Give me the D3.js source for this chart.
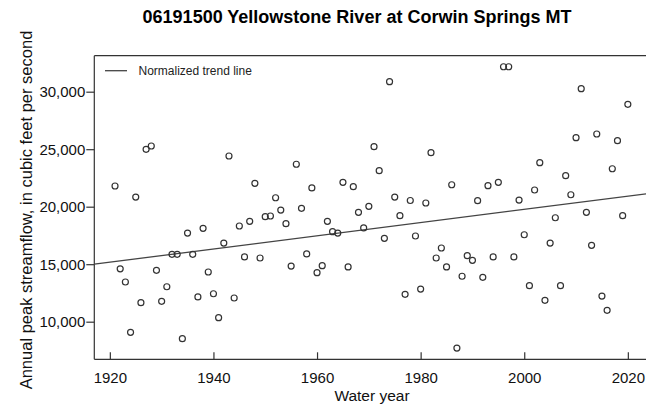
<!DOCTYPE html>
<html>
<head>
<meta charset="utf-8">
<script src="https://cdn.jsdelivr.net/npm/d3@7"></script>
<style>
    body { margin: 0; background: #fff; }
    svg { display: block; font-family: Arial, "Liberation Sans", sans-serif; }
</style>
</head>
<body>
<svg id="chart" width="646" height="407"></svg>
<script>
// annual peak streamflow, cfs, water years 1921-2020
var years = d3.range(1921, 2021);
var peaks = [
    21800, 14600, 13450, 9080, 20840, 11650, 24990, 25280, 14470, 11770,
    13040, 15860, 15860, 8520, 17710, 15860, 12150, 18120, 14320, 12430,
    10350, 16840, 24410, 12060, 18320, 15630, 18730, 22030, 15540, 19130,
    19190, 20780, 19710, 18520, 14840, 23690, 19860, 15890, 21630, 14260,
    14870, 18730, 17830, 17710, 22120, 14760, 21740, 19510, 18150, 20030,
    25220, 23130, 17250, 30870, 20840, 19220, 12380, 20540, 17450, 12840,
    20320, 24700, 15540, 16410, 14760, 21910, 7710, 13950, 15740, 15340,
    20520, 13860, 21830, 15630, 22120, 32170, 32170, 15630, 20580, 17560,
    13130, 21450, 23830, 11860, 16840, 19040, 13130, 22700, 21040, 26000,
    30260, 19510, 16640, 26320, 12230, 10990, 23300, 25740, 19220, 28900
];
var trendYears = [1917, 2024];
var trendValues = [15000, 21150];
var xTicks = [1920, 1940, 1960, 1980, 2000, 2020];
var yTicks = [10000, 15000, 20000, 25000, 30000];

var svg = d3.select('#chart');
var plotLeft = 94.3, plotTop = 55.7, plotBottom = 359.3, plotRight = 646;

var x = d3.scaleLinear().domain([1917, 2024]).range([plotLeft, plotLeft + 107 * 5.18]);
var y = d3.scaleLinear().domain([6730, 33130]).range([plotBottom, plotTop]);

svg.append('defs').append('clipPath')
    .attr('id', 'plotclip')
  .append('rect')
    .attr('x', plotLeft).attr('y', plotTop)
    .attr('width', plotRight - plotLeft).attr('height', plotBottom - plotTop);

// title
svg.append('text')
    .attr('x', 357).attr('y', 23)
    .attr('text-anchor', 'middle')
    .style('font-size', '18px')
    .style('font-weight', 'bold')
    .text('06191500 Yellowstone River at Corwin Springs MT');

// frame top
svg.append('line')
    .attr('x1', plotLeft).attr('x2', plotRight)
    .attr('y1', plotTop).attr('y2', plotTop)
    .attr('stroke', '#333').attr('stroke-width', 1.2);

// y axis, ticks pointing out
var yAxis = svg.append('g')
    .attr('transform', 'translate(' + plotLeft + ',0)')
    .call(d3.axisLeft(y).tickValues(yTicks).tickFormat(d3.format(',')).tickSize(8).tickPadding(1).tickSizeOuter(0));
yAxis.select('.domain').attr('d', 'M0,' + plotTop + 'V' + plotBottom);

// x axis, ticks pointing in
var xAxis = svg.append('g')
    .attr('transform', 'translate(0,' + plotBottom + ')')
    .call(d3.axisBottom(x).tickValues(xTicks).tickFormat(d3.format('d')).tickSize(-7).tickPadding(13).tickSizeOuter(0));
xAxis.select('.domain').attr('d', 'M' + plotLeft + ',0H' + plotRight);

svg.selectAll('.tick text').style('font-size', '15px').attr('fill', '#111');
svg.selectAll('.domain, .tick line').attr('stroke', '#333').attr('stroke-width', 1.2);
svg.selectAll('g').attr('font-family', null);

// axis titles
svg.append('text')
    .attr('x', 372).attr('y', 401)
    .attr('text-anchor', 'middle')
    .style('font-size', '15.5px')
    .attr('fill', '#111')
    .text('Water year');

svg.append('text')
    .attr('transform', 'translate(32,210) rotate(-90)')
    .attr('text-anchor', 'middle')
    .style('font-size', '16.5px')
    .attr('fill', '#111')
    .text('Annual peak streamflow, in cubic feet per second');

var plot = svg.append('g').attr('clip-path', 'url(#plotclip)');

// trend line
var trend = d3.line()
    .x(function (d, i) { return x(trendYears[i]); })
    .y(function (d) { return y(d); });
plot.append('path')
    .attr('d', trend(trendValues))
    .attr('fill', 'none')
    .attr('stroke', '#444')
    .attr('stroke-width', 1.3);

// observed peaks
plot.selectAll('circle')
    .data(peaks)
    .enter().append('circle')
    .attr('cx', function (d, i) { return x(years[i]); })
    .attr('cy', function (d) { return y(d); })
    .attr('r', 3)
    .attr('fill', 'none')
    .attr('stroke', '#333')
    .attr('stroke-width', 1.2);

// legend
svg.append('line')
    .attr('x1', 105).attr('x2', 127)
    .attr('y1', 70.7).attr('y2', 70.7)
    .attr('stroke', '#444').attr('stroke-width', 1.3);
svg.append('text')
    .attr('x', 138.5).attr('y', 75)
    .style('font-size', '12px')
    .attr('fill', '#222')
    .text('Normalized trend line');
</script>
</body>
</html>
